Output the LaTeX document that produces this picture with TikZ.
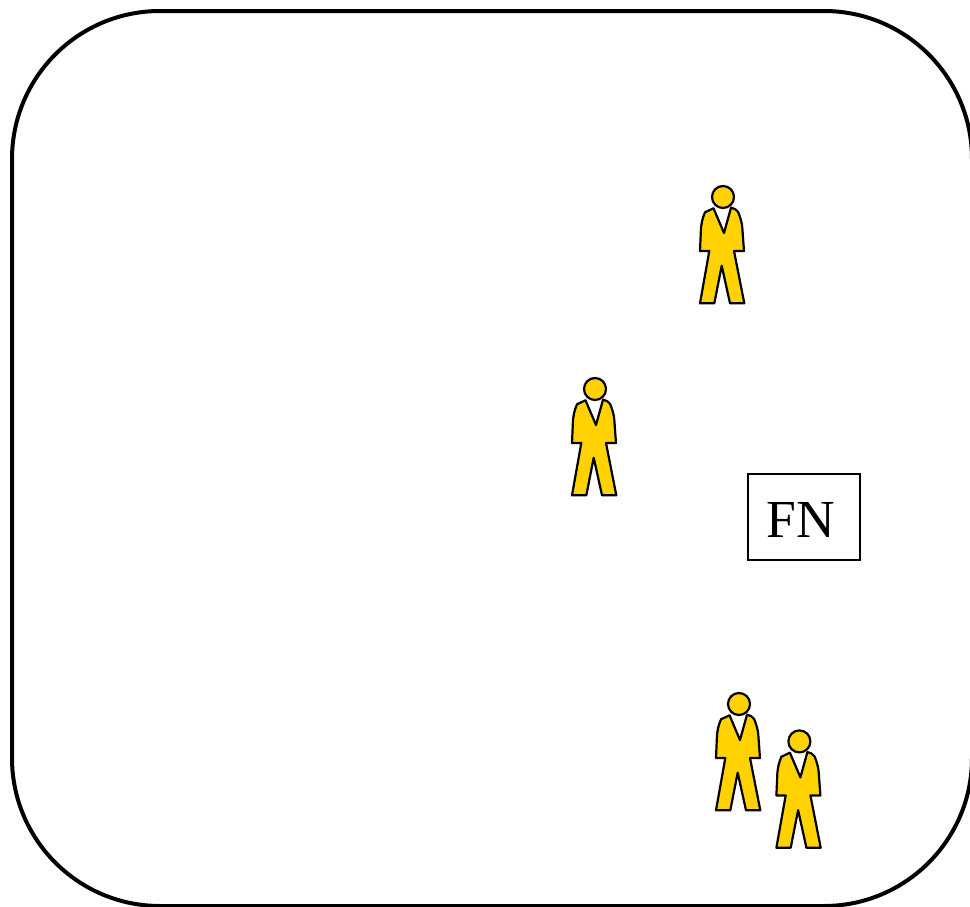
\documentclass[tikz,border=0pt]{standalone}
\usepackage{fontspec}
\setmainfont{Liberation Serif}
\definecolor{persongold}{HTML}{FFD200}
\tikzset{
  x=1pt,y=-1pt,
  frameline/.style={draw=black,line width=4pt,rounded corners=148pt},
  fnbox/.style={draw=black,line width=1.5pt,fill=white,minimum width=112pt,minimum height=86pt,inner sep=0pt},
  fnlabel/.style={inner sep=0pt,font=\fontsize{53.5}{56}\selectfont,text=black},
  personline/.style={draw=black,fill=persongold,line width=2.2pt,line join=round},
  person/.pic={
    \path[personline] (-9.5,11.3) -- (1,36) -- (8,10.7)
      .. controls (10.5,10.7) and (13,12.5) .. (15.3,15.3)
      .. controls (17.5,21) and (19,26) .. (19.3,31)
      -- (21,54) -- (11,54) -- (21.3,106.3) -- (7,106.3) -- (-1.3,68.7) -- (-8.7,106.3) -- (-23,106.3) -- (-13.7,54) -- (-23,54)
      -- (-22,31) .. controls (-21.5,26) and (-20.5,21) .. (-18,15.3)
      -- (-9.5,11.3) -- cycle;
    \path[personline] (0,0) circle[radius=11];
  }
}
\begin{document}
\begin{tikzpicture}
\useasboundingbox (0,0) rectangle (970,906);
\begin{scope}
\clip (0,0) rectangle (970,906);
\draw[frameline] (12,11) rectangle (972,906);
\end{scope}
\pic (personA) at (723,197) {person};
\pic (personB) at (595,389) {person};
\pic (personC) at (739,704) {person};
\pic (personD) at (799.4,741.4) {person};
\node[fnbox] (fn) at (804,517) {};
\node[fnlabel] (fnlabel) at (801,520) {FN};
\end{tikzpicture}
\end{document}
